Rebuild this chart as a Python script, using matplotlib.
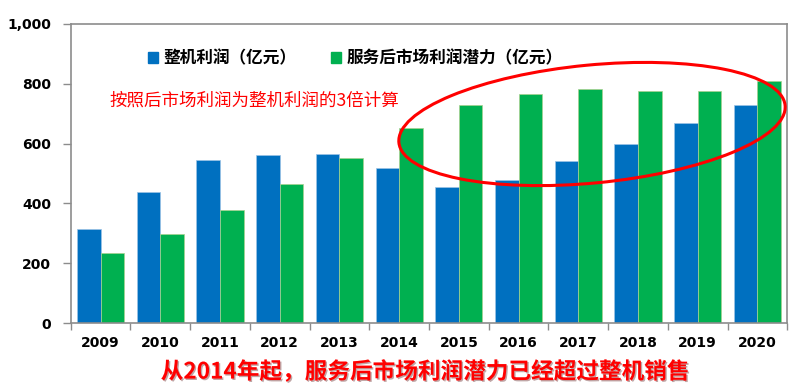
import numpy as np
import matplotlib
matplotlib.use('Agg')
import matplotlib.pyplot as plt
from matplotlib.patches import Ellipse, Patch
from matplotlib.transforms import IdentityTransform
import matplotlib.patheffects as pe
from matplotlib.ticker import FuncFormatter, FixedLocator

# datos
years = ['2009', '2010', '2011', '2012', '2013', '2014',
         '2015', '2016', '2017', '2018', '2019', '2020']
profit = [315, 437, 546, 562, 566, 517, 456, 479, 541, 597, 669, 730]
after_market = [235, 298, 378, 464, 552, 651, 728, 766, 782, 775, 775, 809]
legend_labels = ['整机利润（亿元）', '服务后市场利润潜力（亿元）']
note = '按照后市场利润为整机利润的3倍计算'
footer = '从2014年起，服务后市场利润潜力已经超过整机销售'

plt.rcParams['font.family'] = ['Noto Sans CJK SC', 'DejaVu Sans']

blue = '#0070C0'
green = '#00B050'
grey = '#8C8C8C'

fig = plt.figure(figsize=(7.98, 3.91), dpi=100)
ax = fig.add_axes([0.0886, 0.1731, 0.898, 0.7663])

x = np.arange(len(years))
w = 0.395
ax.bar(x - w / 2, profit, w, color=blue, edgecolor='#9DC3E6', linewidth=0.5)
ax.bar(x + w / 2, after_market, w, color=green, edgecolor='#A9D18E', linewidth=0.5)

ax.set_xlim(-0.5, len(years) - 0.5)
ax.set_ylim(0, 1000)
ax.set_yticks([0, 200, 400, 600, 800, 1000])
ax.yaxis.set_major_formatter(FuncFormatter(lambda v, p: f'{int(v):,}'))
ax.set_xticks(x)
ax.set_xticklabels(years)
ax.xaxis.set_minor_locator(FixedLocator(np.arange(-0.5, len(years), 1.0)))
ax.tick_params(axis='x', which='major', length=0, pad=9)
ax.tick_params(axis='x', which='minor', length=5, color=grey, width=1, direction='out')
ax.tick_params(axis='y', length=6, color=grey, width=1, pad=8)
for lab in ax.get_xticklabels() + ax.get_yticklabels():
    lab.set_family('DejaVu Sans')
    lab.set_fontweight('bold')
    lab.set_fontsize(10)
for s in ax.spines.values():
    s.set_color(grey)
    s.set_linewidth(1.2)

# leyenda
handles = [Patch(color=blue), Patch(color=green)]
ax.legend(handles, legend_labels, ncol=2, frameon=False, loc='upper left',
          bbox_to_anchor=(0.087, 0.965), handlelength=0.6, handleheight=0.6,
          handletextpad=0.35, columnspacing=2.05,
          prop={'family': 'Noto Sans CJK SC', 'weight': 'bold', 'size': 12})

ax.text(0.054, 0.745, note, transform=ax.transAxes, color='#FF0000',
        fontsize=12.6, fontweight='medium', va='center', ha='left')

# elipse roja (pixeles)
ell = Ellipse((592, 391 - 124), 388, 118, angle=5.5, fill=False,
              edgecolor='#FF0000', linewidth=2.2, transform=IdentityTransform())
fig.add_artist(ell)

fig.text(425, 391 - 372, footer, transform=IdentityTransform(), color='#FF0000',
         fontsize=16.3, fontweight='bold', ha='center', va='center',
         path_effects=[pe.withSimplePatchShadow(offset=(1, -1), alpha=0.35)])

fig.savefig('out.png', dpi=100)
